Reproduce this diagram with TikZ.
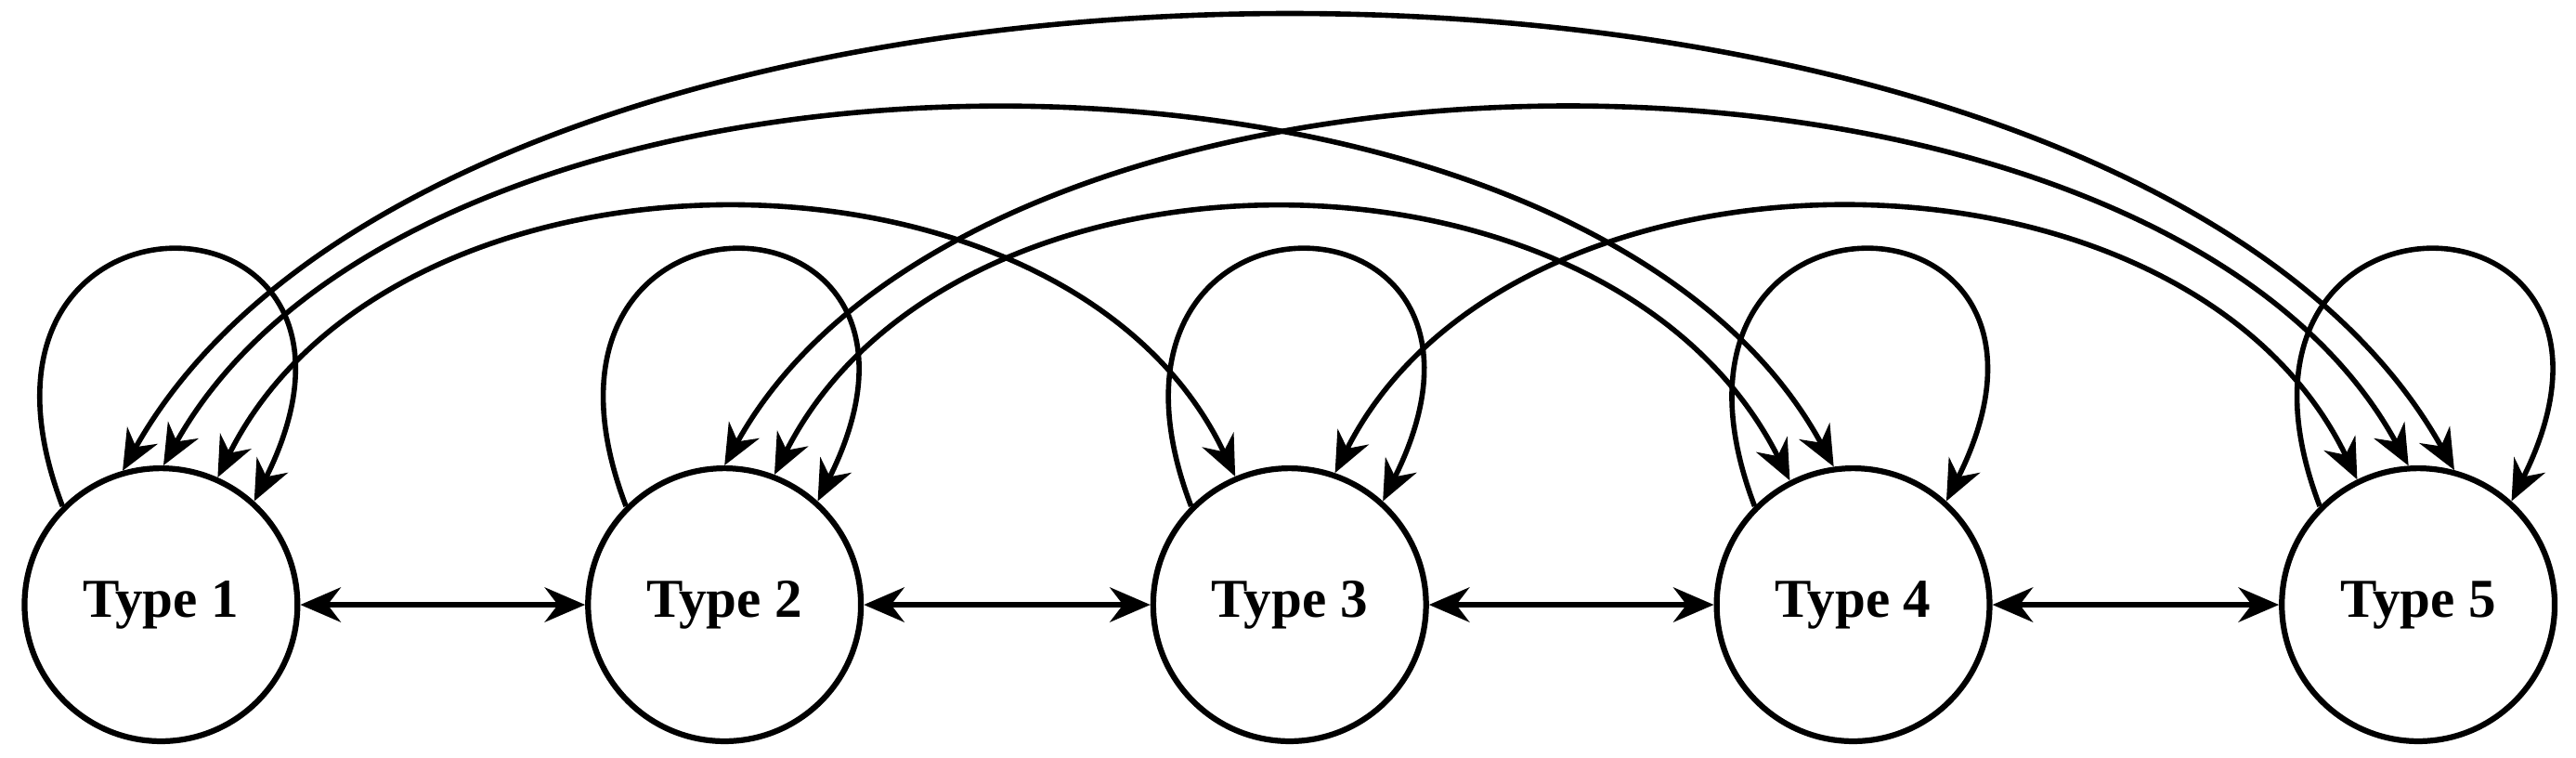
\documentclass[tikz,border=0pt]{standalone}
\usepackage{fontspec}
\setmainfont{Liberation Serif}
\usetikzlibrary{arrows.meta}
\begin{document}
\begin{tikzpicture}[x=0.01cm,y=-0.01cm,
  tnode/.style={circle,draw,line width=1pt,minimum size=1.66cm,inner sep=0pt,font=\fontsize{9.5}{11}\selectfont\bfseries},
  conn/.style={line width=0.9pt,>={Stealth[length=7pt,width=6pt]}}]
\useasboundingbox (0,0) rectangle (1568,461);
\node[tnode] (t1) at (98,368) {Type 1};
\node[tnode] (t2) at (441,368) {Type 2};
\node[tnode] (t3) at (785,368) {Type 3};
\node[tnode] (t4) at (1128,368) {Type 4};
\node[tnode] (t5) at (1472,368) {Type 5};
\foreach \a/\b in {t1/t2,t2/t3,t3/t4,t4/t5}
  \draw[conn,<->] (\a.east) -- (\b.west);
\foreach \t in {t1,t2,t3,t4,t5}
  \draw[conn,->] (\t.135) .. controls +(-80,-210) and +(100,-200) .. (\t.48);
\draw[conn,<->] (t1.106) .. controls (280,-80) and (1290,-80) .. (t5.75);
\draw[conn,<->] (t1.89) .. controls (260,-4) and (960,-4) .. (t4.98);
\draw[conn,<->] (t2.90) .. controls (600,-4) and (1310,-4) .. (t5.94);
\draw[conn,<->] (t1.66) .. controls (240,74) and (650,74) .. (t3.113);
\draw[conn,<->] (t2.69) .. controls (580,74) and (980,74) .. (t4.117);
\draw[conn,<->] (t3.71) .. controls (920,74) and (1330,74) .. (t5.116);
\end{tikzpicture}
\end{document}
